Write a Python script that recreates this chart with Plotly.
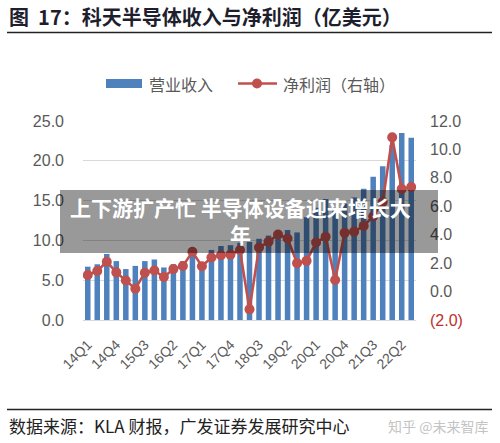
import plotly.graph_objects as go

quarters = ["14Q1", "14Q2", "14Q3", "14Q4", "15Q1", "15Q2", "15Q3", "15Q4",
            "16Q1", "16Q2", "16Q3", "16Q4", "17Q1", "17Q2", "17Q3", "17Q4",
            "18Q1", "18Q2", "18Q3", "18Q4", "19Q1", "19Q2", "19Q3", "19Q4",
            "20Q1", "20Q2", "20Q3", "20Q4", "21Q1", "21Q2", "21Q3", "21Q4",
            "22Q1", "22Q2", "22Q3"]
tick_labels = ["14Q1", "14Q4", "15Q3", "16Q2", "17Q1", "17Q4", "18Q3",
               "19Q2", "20Q1", "20Q4", "21Q3", "22Q2"]
revenue = [6.7, 7.0, 8.3, 7.4, 6.4, 6.8, 7.4, 7.6, 6.6, 7.0, 7.4, 8.7,
           7.2, 8.8, 9.3, 9.4, 9.7, 9.8, 10.2, 10.6, 10.9, 11.3, 11.0, 12.9,
           14.1, 15.2, 14.0, 14.6, 15.4, 16.5, 18.0, 19.3, 22.0, 23.5, 22.9]
net_profit = [1.16, 1.45, 2.1, 1.35, 0.78, 0.2, 1.33, 1.48, 1.02, 1.58, 1.8,
              2.8, 1.78, 2.4, 2.56, 2.6, 2.92, -1.25, 3.1, 3.5, 4.02, 3.73,
              2.0, 2.16, 3.45, 3.85, 0.81, 4.13, 4.22, 4.62, 5.3, 6.3, 10.85,
              7.22, 7.36]
left_ticks = [0, 5, 10, 15, 20, 25]
right_ticks = [-2, 0, 2, 4, 6, 8, 10, 12]
right_tick_text = ["<span style='color:#c0302b'>(2.0)</span>", "0.0", "2.0",
                   "4.0", "6.0", "8.0", "10.0", "12.0"]

BLUE = "#4f81bd"
RED = "#c0504d"
GRAY = "#595959"
GRID = "#d9d9d9"

ML, MR, MT, MB = 83, 84, 121, 123
W, H = 500, 443
PW = W - ML - MR
PH = H - MT - MB


def px(x):
    return (x - ML) / PW


def py(y):
    return (H - MB - y) / PH


fig = go.Figure()
fig.add_trace(go.Bar(x=quarters, y=revenue, marker_color=BLUE,
                     marker_line_width=0, name="营业收入", yaxis="y"))
fig.add_trace(go.Scatter(x=quarters, y=net_profit, mode="lines+markers",
                         line=dict(color=RED, width=2.6),
                         marker=dict(color=RED, size=10),
                         name="净利润（右轴）", yaxis="y2"))

shapes = [
    dict(type="line", xref="paper", yref="paper", x0=px(7), x1=px(492),
         y0=py(32.5), y1=py(32.5), line=dict(color="#222222", width=1.3)),
    dict(type="line", xref="paper", yref="paper", x0=px(7), x1=px(492),
         y0=py(409.5), y1=py(409.5), line=dict(color="#222222", width=1.3)),
    dict(type="rect", xref="paper", yref="paper", x0=px(106), x1=px(142),
         y0=py(88), y1=py(79), fillcolor=BLUE, line=dict(width=0)),
    dict(type="line", xref="paper", yref="paper", x0=px(238), x1=px(277),
         y0=py(83.5), y1=py(83.5), line=dict(color=RED, width=2.6)),
    dict(type="circle", xref="paper", yref="paper", x0=px(252), x1=px(262),
         y0=py(88.5), y1=py(78.5), fillcolor=RED, line=dict(width=0)),
    dict(type="rect", xref="paper", yref="paper", x0=px(60), x1=px(438),
         y0=py(253), y1=py(190), fillcolor="rgba(0,0,0,0.40)",
         line=dict(width=0), layer="above"),
]

annotations = [
    dict(text="<b>图  17：科天半导体收入与净利润（亿美元）</b>", xref="paper", yref="paper",
         x=px(7), y=py(16.5), xanchor="left", yanchor="middle", showarrow=False,
         font=dict(size=20, color="#1e1e2e")),
    dict(text="营业收入", xref="paper", yref="paper", x=px(147), y=py(83.5),
         xanchor="left", yanchor="middle", showarrow=False,
         font=dict(size=16, color=GRAY)),
    dict(text="净利润（右轴）", xref="paper", yref="paper", x=px(281), y=py(83.5),
         xanchor="left", yanchor="middle", showarrow=False,
         font=dict(size=16, color=GRAY)),
    dict(text="数据来源：KLA 财报，广发证券发展研究中心", xref="paper", yref="paper",
         x=px(7), y=py(425.5), xanchor="left", yanchor="middle", showarrow=False,
         font=dict(size=17, color="#222222")),
    dict(text="知乎 @未来智库", xref="paper", yref="paper",
         x=px(490), y=py(425.5), xanchor="right", yanchor="middle", showarrow=False,
         font=dict(size=14, color="#c4c4c4")),
    dict(text="<b>上下游扩产忙 半导体设备迎来增长大<br>年</b>", xref="paper", yref="paper",
         x=px(240), y=py(220), xanchor="center", yanchor="middle", showarrow=False,
         align="center", font=dict(size=21, color="white")),
]

fig.update_layout(
    width=W, height=H,
    margin=dict(l=ML, r=MR, t=MT, b=MB, pad=0),
    paper_bgcolor="white", plot_bgcolor="white",
    font=dict(family="Noto Sans CJK SC, Liberation Sans, Arial", color=GRAY),
    showlegend=False,
    bargap=0.42,
    xaxis=dict(type="category", tickmode="array", tickvals=tick_labels,
               ticktext=tick_labels, tickangle=-45, showgrid=False,
               showline=True, linecolor=GRID, linewidth=1, ticks="",
               ticklabelstandoff=10,
               tickfont=dict(size=14, color=GRAY,
                             family="Liberation Sans, Arial"),
               range=[-0.5, len(quarters) - 0.5]),
    yaxis=dict(range=[0, 25], tickvals=left_ticks, tickformat=".1f",
               showgrid=True, gridcolor=GRID, gridwidth=1, zeroline=False,
               showline=False, ticks="", ticklabelstandoff=18,
               tickfont=dict(size=16, color=GRAY,
                             family="Liberation Sans, Arial")),
    yaxis2=dict(range=[-2, 12], overlaying="y", side="right",
                tickmode="array", tickvals=right_ticks,
                ticktext=right_tick_text, showgrid=False, zeroline=False,
                showline=False, ticks="", ticklabelstandoff=13,
                tickfont=dict(size=16, color=GRAY,
                              family="Liberation Sans, Arial")),
    shapes=shapes,
    annotations=annotations,
)

fig.write_html("out.html", config={"displayModeBar": False},
               post_script="document.body.style.margin='0';"
                           "document.body.style.padding='0';")
